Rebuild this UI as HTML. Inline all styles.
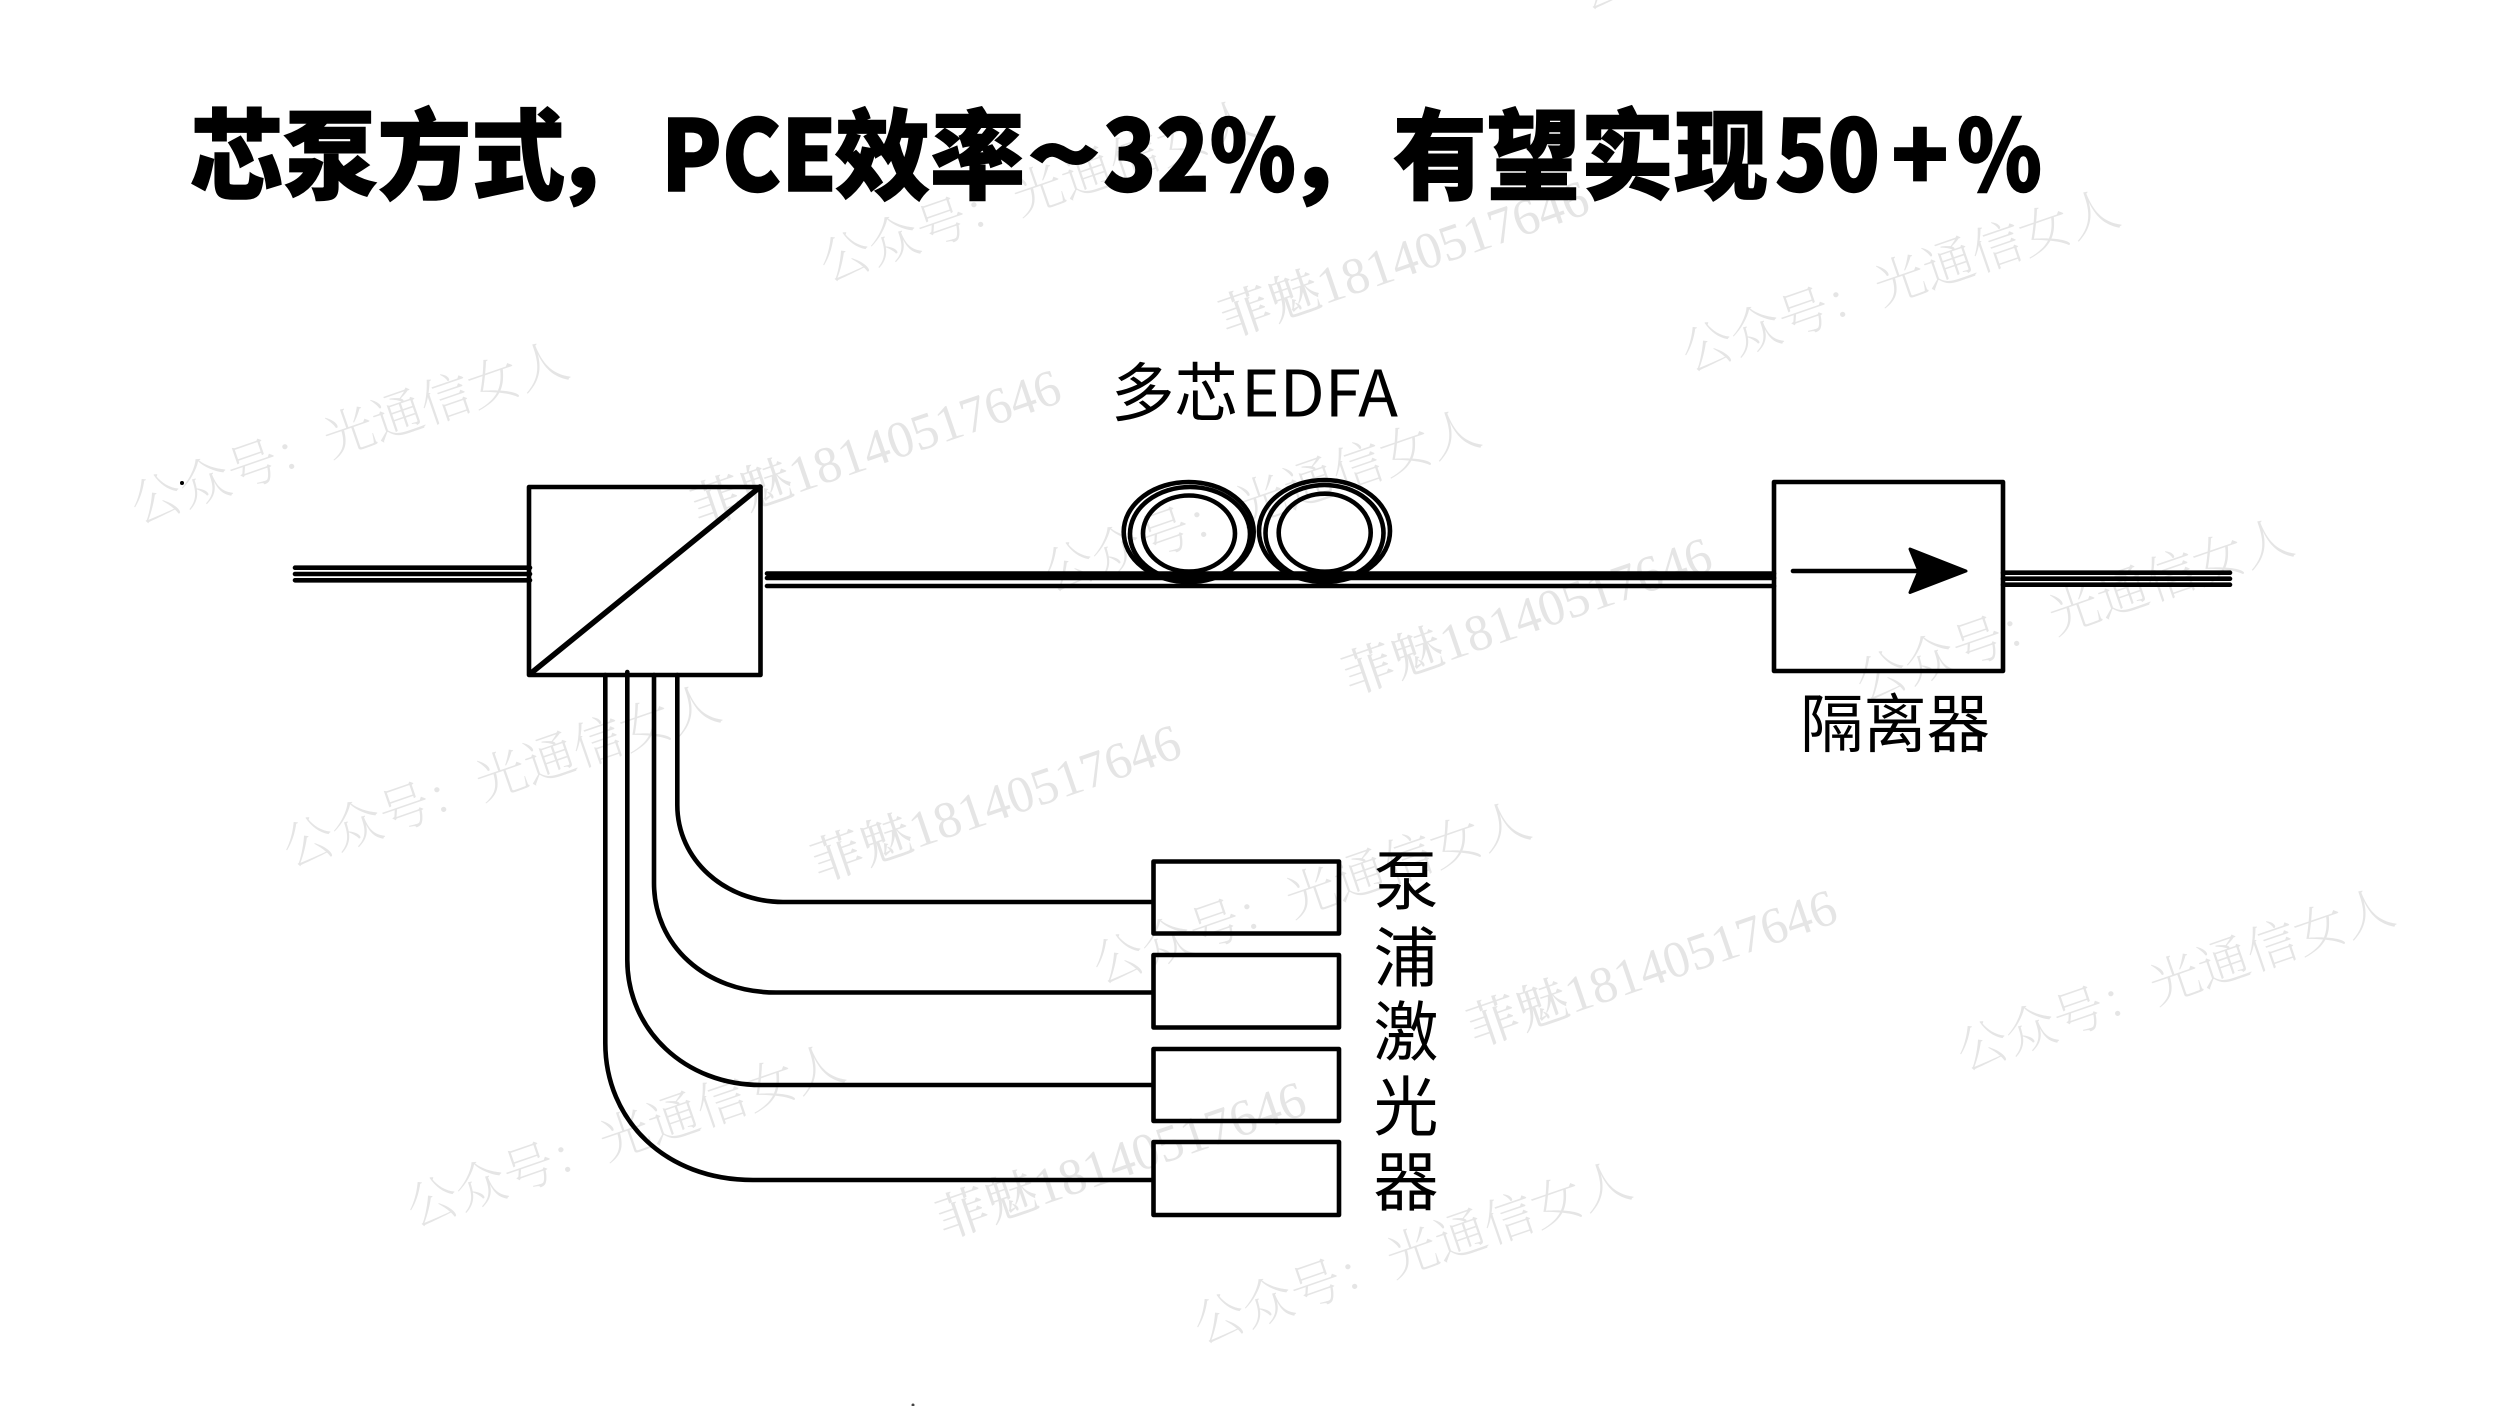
<!DOCTYPE html>
<html lang="zh">
<head>
<meta charset="utf-8">
<title>芯泵方式</title>
<style>
html,body{margin:0;padding:0;background:#fff;width:2500px;height:1406px;overflow:hidden}
svg{display:block}
.wm{font-family:"Noto Serif CJK SC","Liberation Serif",serif;font-size:51px;font-weight:200;fill:#e5e5e5}
.wn{font-family:"Liberation Serif","Noto Serif CJK SC",serif;font-size:51.5px;fill:#e5e5e5}
.t{font-family:"Noto Sans CJK SC","Liberation Sans",sans-serif;font-weight:900;font-size:98px;fill:#000;stroke:#000;stroke-width:1.4}
.l{font-family:"Noto Sans CJK SC","Liberation Sans",sans-serif;font-size:62px;fill:#000}
.s{fill:none;stroke:#000;stroke-width:4.6;stroke-linejoin:round;stroke-linecap:round}
</style>
</head>
<body>
<svg width="2500" height="1406" viewBox="0 0 2500 1406" xmlns="http://www.w3.org/2000/svg">
<rect width="2500" height="1406" fill="#fff"/>

<!-- watermarks -->
<g class="wm">
<text transform="translate(138,524) rotate(-19)">公众号：光通信女人</text>
<text transform="translate(290,867) rotate(-19)">公众号：光通信女人</text>
<text transform="translate(414,1227) rotate(-19)">公众号：光通信女人</text>
<text transform="translate(827,282) rotate(-19)">公众号：光通信女人</text>
<text transform="translate(1050,592) rotate(-19)">公众号：光通信女人</text>
<text transform="translate(1100,984) rotate(-19)">公众号：光通信女人</text>
<text transform="translate(1201,1344) rotate(-19)">公众号：光通信女人</text>
<text transform="translate(1689,372) rotate(-19)">公众号：光通信女人</text>
<text transform="translate(1863,701) rotate(-19)">公众号：光通信女人</text>
<text transform="translate(1964,1071) rotate(-19)">公众号：光通信女人</text>
<text transform="translate(1585,10) rotate(-19)">公众号：光通信女人</text>
</g>
<g class="wn">
<text transform="translate(699,527) rotate(-19)">菲魅18140517646</text>
<text transform="translate(819,882) rotate(-19)">菲魅18140517646</text>
<text transform="translate(944,1239) rotate(-19)">菲魅18140517646</text>
<text transform="translate(1227,338) rotate(-19)">菲魅18140517646</text>
<text transform="translate(1350,695) rotate(-19)">菲魅18140517646</text>
<text transform="translate(1475,1047) rotate(-19)">菲魅18140517646</text>
</g>

<!-- title -->
<g class="t">
<text x="190" y="191" textLength="375" lengthAdjust="spacingAndGlyphs">芯泵方式</text>
<text x="553" y="191">，</text>
<text x="661" y="191" textLength="176" lengthAdjust="spacingAndGlyphs">PCE</text>
<text x="835" y="191" textLength="190" lengthAdjust="spacingAndGlyphs">效率</text>
<text x="1027" y="191" textLength="74" lengthAdjust="spacingAndGlyphs">~</text>
<text x="1103" y="191" textLength="193" lengthAdjust="spacingAndGlyphs">32%</text>
<text x="1286" y="191">，</text>
<text x="1393" y="191" textLength="375" lengthAdjust="spacingAndGlyphs">有望实现</text>
<text x="1775" y="191" textLength="105" lengthAdjust="spacingAndGlyphs">50</text>
<text x="1891" y="191" textLength="58" lengthAdjust="spacingAndGlyphs">+</text>
<text x="1957" y="191" textLength="85" lengthAdjust="spacingAndGlyphs">%</text>
</g>

<!-- labels -->
<g class="l">
<text x="1111" y="416" font-size="64" textLength="127" lengthAdjust="spacingAndGlyphs">多芯</text>
<text x="1241" y="416.5" font-size="64" textLength="157" lengthAdjust="spacingAndGlyphs">EDFA</text>
<text x="1800" y="747" font-size="64" textLength="190" lengthAdjust="spacingAndGlyphs">隔离器</text>
<g font-size="65">
<text x="1373.5" y="904">泵</text>
<text x="1373.5" y="981">浦</text>
<text x="1373.5" y="1055">激</text>
<text x="1373.5" y="1130">光</text>
<text x="1373.5" y="1205">器</text>
</g>
</g>

<!-- fibers -->
<g class="s">
<path d="M295 567.7H530M295 574H530M295 580.3H530"/>
<path d="M767 573.5H1774M767 578H1774M767 586H1774"/>
<path d="M2003 572.7H2230M2003 578.7H2230M2003 584.7H2230"/>
</g>

<!-- coils -->
<g fill="none" stroke="#000" stroke-width="4.6">
<ellipse cx="1188.7" cy="532" rx="65" ry="50"/>
<ellipse cx="1190" cy="534" rx="60" ry="47"/>
<ellipse cx="1189" cy="533.5" rx="46" ry="38"/>
<ellipse cx="1324.5" cy="531" rx="65.5" ry="51"/>
<ellipse cx="1324.5" cy="533" rx="59" ry="48"/>
<ellipse cx="1324.7" cy="532.7" rx="46" ry="39"/>
</g>

<!-- splitter -->
<g class="s">
<rect x="529" y="487" width="231.5" height="188"/>
<path d="M530 674L760 487" stroke-width="5.5"/>
</g>

<!-- pump fibers and lasers -->
<g class="s">
<path d="M677.3 675V805C677.3 860 725 902 783 902H1153"/>
<path d="M654 675V883C654 945 705 992.5 776 992.5H1153"/>
<path d="M627.3 672V960C627.3 1030 685 1085 761 1085H1153"/>
<path d="M605.3 675V1043C605.3 1120 665 1180 753 1180H1153"/>
<rect x="1153.5" y="861.5" width="185.5" height="72"/>
<rect x="1153.5" y="955" width="185.5" height="72.5"/>
<rect x="1153.5" y="1049" width="185.5" height="72"/>
<rect x="1153.5" y="1142" width="185.5" height="73"/>
</g>

<!-- isolator -->
<g class="s">
<path d="M1774 482H2003V671H1774Z"/>
<path d="M1793 571H1925"/>
<path d="M1966 571L1910 549L1919 571L1910 592.5Z" fill="#000" stroke-width="3"/>
</g>

<circle cx="182" cy="483" r="2" fill="#000"/>
<circle cx="913" cy="1405" r="1.5" fill="#444"/>
</svg>
</body>
</html>
